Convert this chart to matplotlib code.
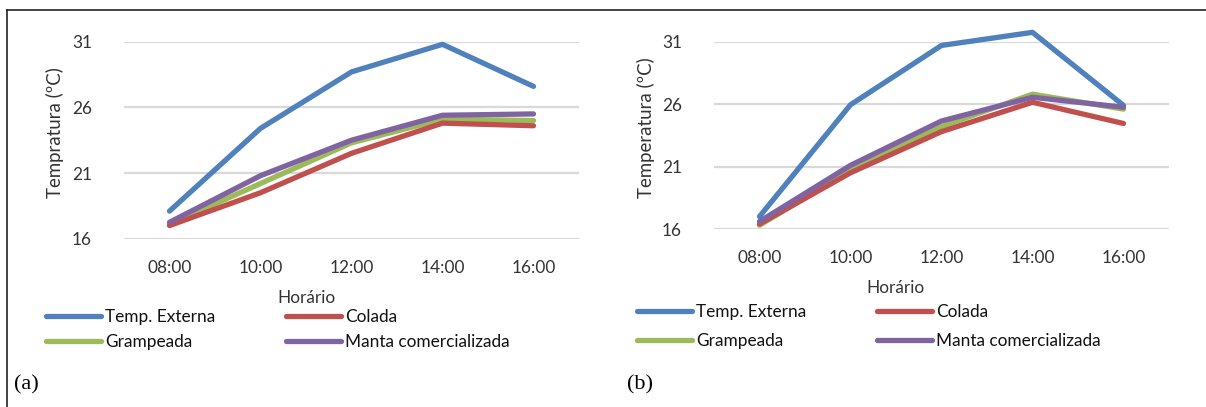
import numpy as np
import matplotlib
matplotlib.use("Agg")
import matplotlib.pyplot as plt
from matplotlib.lines import Line2D

plt.rcParams['font.family'] = ['Lato', 'DejaVu Sans']

# Data
horas = ["08:00", "10:00", "12:00", "14:00", "16:00"]
series_names = ["Temp. Externa", "Colada", "Grampeada", "Manta comercializada"]
colors = ["#4f81bd", "#c0504d", "#9bbb59", "#8064a2"]

externa_a = [18.1, 24.4, 28.7, 30.8, 27.6]
colada_a = [17.0, 19.5, 22.5, 24.8, 24.6]
grampeada_a = [17.1, 20.2, 23.3, 25.1, 25.0]
manta_a = [17.25, 20.8, 23.5, 25.4, 25.5]

externa_b = [17.0, 25.95, 30.7, 31.75, 25.9]
colada_b = [16.4, 20.5, 23.8, 26.15, 24.45]
grampeada_b = [16.3, 20.7, 24.2, 26.8, 25.6]
manta_b = [16.6, 21.1, 24.65, 26.55, 25.75]

yticks = [16, 21, 26, 31]

W, H = 1206, 407
fig = plt.figure(figsize=(W / 100, H / 100), dpi=100)


def px(x0, y0, x1, y1):
    # pixel box -> figure fraction rect
    return [x0 / W, 1 - y1 / H, (x1 - x0) / W, (y1 - y0) / H]


def panel(rect, data, ylabel, ylab_xy, xlab_xy, leg_y, leg_x, leg_sp, tag, tag_xy):
    ax = fig.add_axes(rect)
    x = np.arange(len(horas))
    # draw order: externa, grampeada, colada, manta (purple on top)
    order = [0, 2, 1, 3]
    handles = {}
    for i in order:
        ln, = ax.plot(x, data[i], color=colors[i], lw=3.8, clip_on=False,
                      solid_capstyle='round', solid_joinstyle='round')
        handles[i] = ln
    ax.set_xlim(-0.5, len(horas) - 0.5)
    ax.set_ylim(16, 31)
    ax.set_yticks(yticks)
    ax.set_xticks(x)
    ax.set_xticklabels(horas)
    ax.tick_params(length=0, labelsize=12.4, colors="#333333")
    ax.tick_params(axis='y', pad=23)
    ax.tick_params(axis='x', pad=15)
    ax.grid(axis='y', color='#d9d9d9', lw=1.6)
    ax.set_axisbelow(True)
    for s in ax.spines.values():
        s.set_visible(False)
    fig.text(ylab_xy[0] / W, 1 - ylab_xy[1] / H, ylabel, rotation=90,
             ha='center', va='center', fontsize=13.4, color="#333333")
    fig.text(xlab_xy[0] / W, 1 - xlab_xy[1] / H, "Horário",
             ha='center', va='center', fontsize=12.4, color="#333333")
    # two single-column legends so the columns sit where they do in the original
    for col, idx in enumerate([(0, 2), (1, 3)]):
        leg = fig.legend([handles[i] for i in idx], [series_names[i] for i in idx],
                         loc='upper left',
                         bbox_to_anchor=(leg_x[col] / W, 1 - leg_y / H),
                         frameon=False, fontsize=12.4, handlelength=3.2,
                         handletextpad=0.25, labelspacing=leg_sp,
                         borderaxespad=0, borderpad=0)
        for t in leg.get_texts():
            t.set_color("#111111")
    fig.text(tag_xy[0] / W, 1 - tag_xy[1] / H, tag, family='Liberation Serif',
             fontsize=16, ha='left', va='center')
    return ax


panel(px(124, 41.7, 579, 238.7), [externa_a, colada_a, grampeada_a, manta_a],
      "Tempratura (ºC)", (55, 133), (306, 298), 309, (46, 286), 0.55, "(a)", (14, 385))
panel(px(714, 41.7, 1169, 229), [externa_b, colada_b, grampeada_b, manta_b],
      "Temperatura (ºC)", (646, 128), (895, 288), 304, (637, 877), 0.75, "(b)", (627, 385))

# frame lines of the original page
fig.add_artist(Line2D([7 / W, 1], [1 - 10 / H, 1 - 10 / H], color='#222222', lw=1.2,
                      transform=fig.transFigure))
fig.add_artist(Line2D([7 / W, 7 / W], [0, 1 - 10 / H], color='#222222', lw=1.2,
                      transform=fig.transFigure))

fig.savefig("out.png", dpi=100, facecolor='white')
